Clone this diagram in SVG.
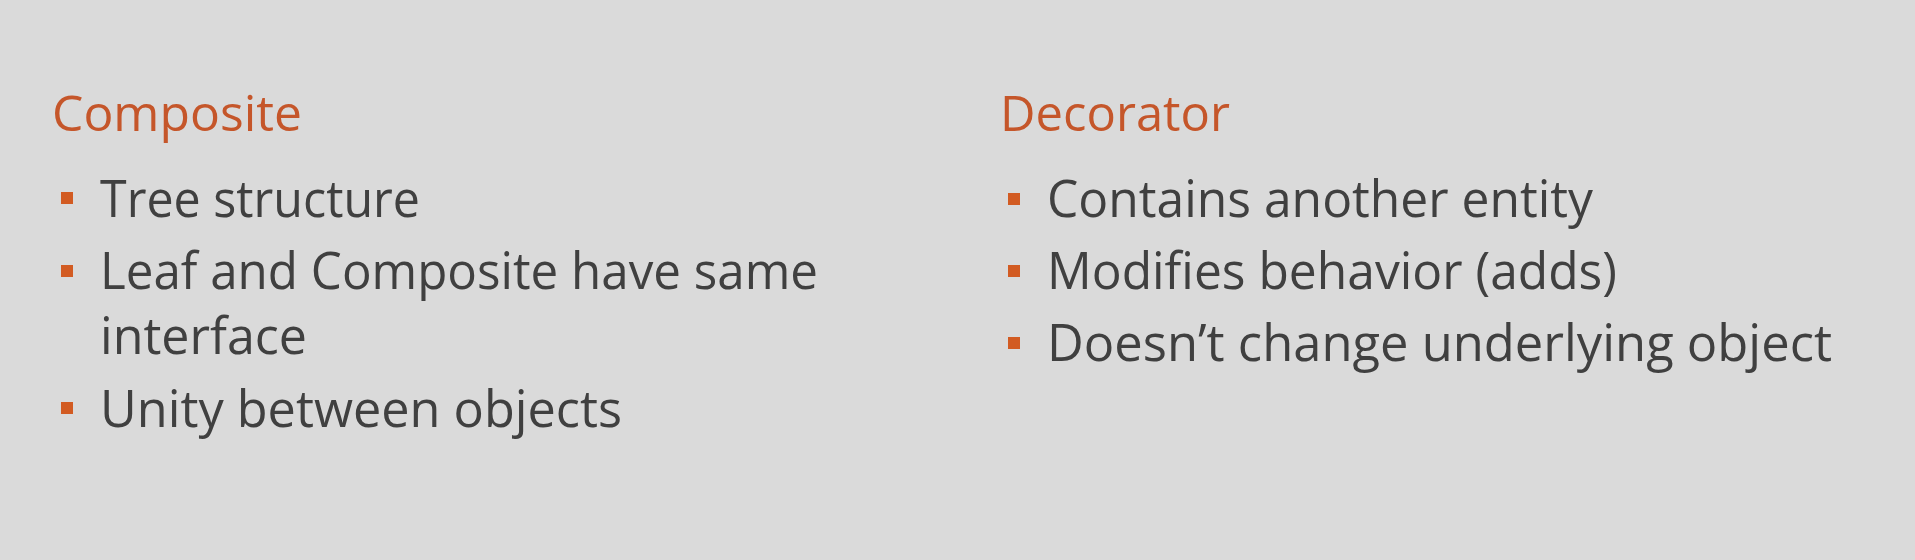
<svg xmlns="http://www.w3.org/2000/svg" width="1915" height="560" viewBox="0 0 1915 560">
  <style>
    .bg { fill: #dadada; }
    .head { font-family: "Open Sans", "Noto Sans", "Liberation Sans", sans-serif; font-size: 50px; fill: #c5562a; }
    .item { font-family: "Open Sans", "Noto Sans", "Liberation Sans", sans-serif; font-size: 52px; fill: #404040; }
    .bullet { fill: #d25b22; }
  </style>
  <rect class="bg" x="0" y="0" width="1915" height="560"/>
  <g id="composite">
    <text class="head" x="52" y="131" textLength="250" lengthAdjust="spacingAndGlyphs">Composite</text>
    <rect class="bullet" x="61" y="192" width="12" height="12"/>
    <text class="item" x="100" y="217" textLength="320" lengthAdjust="spacingAndGlyphs">Tree structure</text>
    <rect class="bullet" x="61" y="265" width="12" height="12"/>
    <text class="item" x="100" y="289" textLength="718" lengthAdjust="spacingAndGlyphs">Leaf and Composite have same</text>
    <text class="item" x="100" y="354" textLength="207" lengthAdjust="spacingAndGlyphs">interface</text>
    <rect class="bullet" x="61" y="402" width="12" height="12"/>
    <text class="item" x="100" y="427" textLength="522" lengthAdjust="spacingAndGlyphs">Unity between objects</text>
  </g>
  <g id="decorator">
    <text class="head" x="1000" y="131" textLength="230" lengthAdjust="spacingAndGlyphs">Decorator</text>
    <rect class="bullet" x="1008" y="193" width="12" height="12"/>
    <text class="item" x="1047" y="217" textLength="546" lengthAdjust="spacingAndGlyphs">Contains another entity</text>
    <rect class="bullet" x="1008" y="265" width="12" height="12"/>
    <text class="item" x="1047" y="289" textLength="570" lengthAdjust="spacingAndGlyphs">Modifies behavior (adds)</text>
    <rect class="bullet" x="1008" y="337" width="12" height="12"/>
    <text class="item" x="1047" y="361" textLength="785" lengthAdjust="spacingAndGlyphs">Doesn&#8217;t change underlying object</text>
  </g>
</svg>
